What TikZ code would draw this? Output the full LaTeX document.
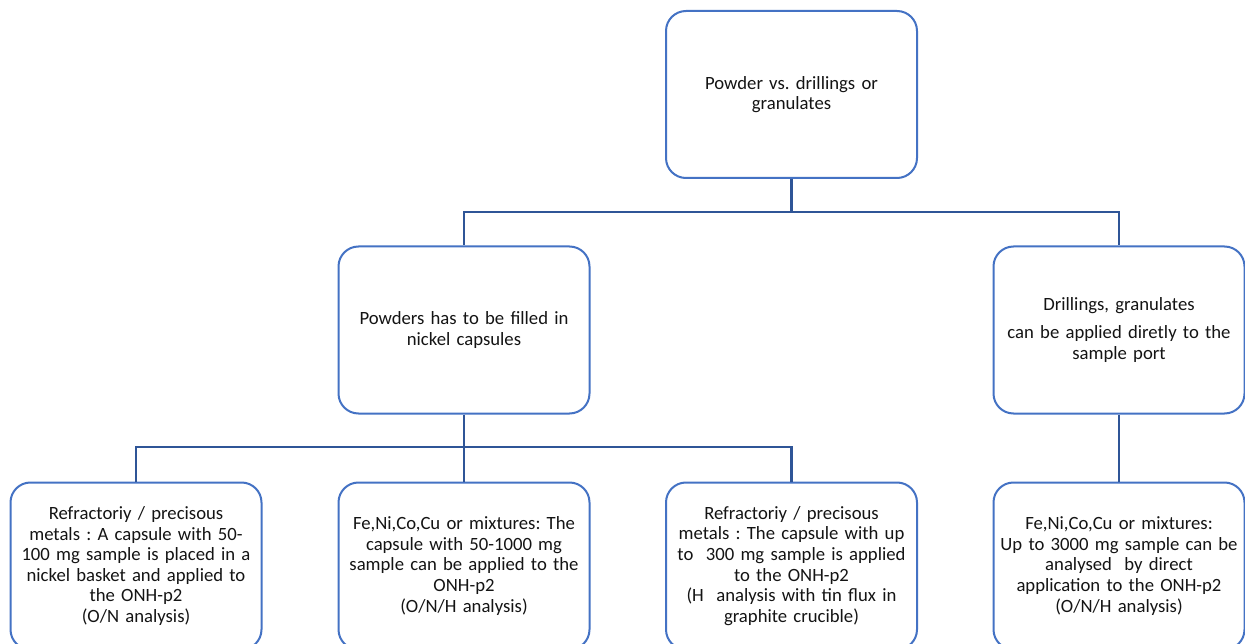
\documentclass[tikz,border=0pt]{standalone}
\usepackage{fontspec}
\setmainfont{Carlito}
\definecolor{boxblue}{HTML}{4472C4}
\definecolor{linkblue}{HTML}{2F5597}
\tikzset{
  box/.style={draw=boxblue, line width=2pt, rounded corners=20pt, fill=white,
    minimum width=251pt, minimum height=167pt, align=center,
    text width=240pt, font=\fontsize{18.7}{20.6}\selectfont\frenchspacing, text=black!92},
  conn/.style={draw=linkblue, line width=2.4pt}
}
\begin{document}
\begin{tikzpicture}[x=1pt,y=-1pt]
\useasboundingbox (0,0) rectangle (1245,644);
\fill[white] (0,0) rectangle (1245,644);
\node[box] (top) at (791.5,94.5) {Powder vs. drillings or\\granulates};
\node[box] (mid) at (464,330) {Powders has to be filled in\\nickel capsules};
\node[box] (right) at (1119,330) {Drillings, granulates\\[7pt]can be applied diretly to the\\sample port};
\node[box] (b1) at (136,566) {Refractoriy / precisous\\metals : A capsule with 50-\\100 mg sample is placed in a\\nickel basket and applied to\\the ONH-p2\\(O/N analysis)};
\node[box] (b2) at (464,566) {Fe,Ni,Co,Cu or mixtures: The\\capsule with 50-1000 mg\\sample can be applied to the\\ONH-p2\\(O/N/H analysis)};
\node[box] (b3) at (791.5,566) {Refractoriy / precisous\\metals : The capsule with up\\to\ \ 300 mg sample is applied\\to the ONH-p2\\(H\ \ analysis with tin flux in\\graphite crucible)};
\node[box] (b4) at (1119,566) {Fe,Ni,Co,Cu or mixtures:\\Up to 3000 mg sample can be\\analysed\ \ by direct\\application to the ONH-p2\\(O/N/H analysis)};
\coordinate (j1) at (791.5,212);
\coordinate (j2) at (464,447);
\draw[conn] (top.south) -- (j1);
\draw[conn] (j1) -| (mid.north);
\draw[conn] (j1) -| (right.north);
\draw[conn] (mid.south) -- (j2);
\draw[conn] (j2) -| (b1.north);
\draw[conn] (j2) -- (b2.north);
\draw[conn] (j2) -| (b3.north);
\draw[conn] (right.south) -- (b4.north);
\end{tikzpicture}
\end{document}
